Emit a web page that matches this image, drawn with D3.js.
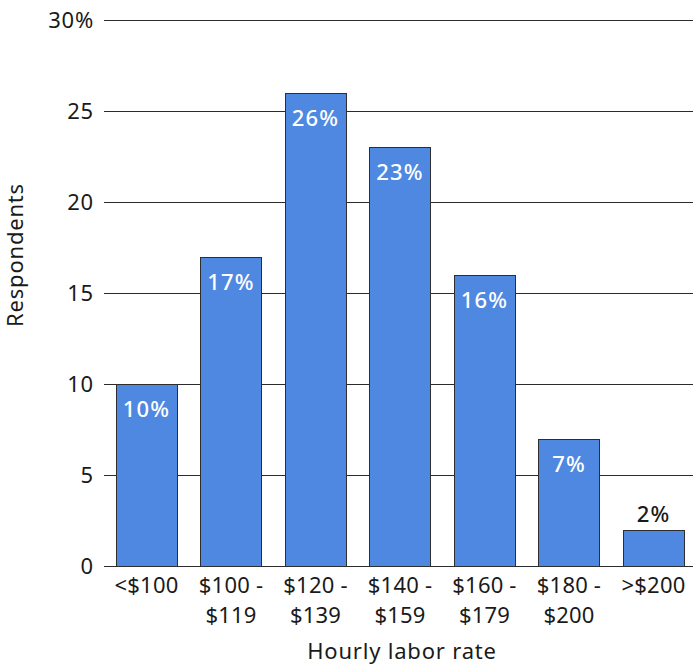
<!DOCTYPE html>
<html>
<head>
<meta charset="utf-8">
<script src="https://cdn.jsdelivr.net/npm/d3@7"></script>
<style>
  html, body { margin: 0; padding: 0; background: #fff; }
  svg { display: block; font-family: "Noto Sans", "Open Sans", sans-serif; letter-spacing: 0.8px; }
</style>
</head>
<body>
<svg id="chart" width="693" height="665"></svg>
<script>
// Share of respondents by hourly labor rate bracket
const categories = [["<$100"], ["$100 -", "$119"], ["$120 -", "$139"], ["$140 -", "$159"], ["$160 -", "$179"], ["$180 -", "$200"], [">$200"]];
const values = [10, 17, 26, 23, 16, 7, 2];
const yTicks = [0, 5, 10, 15, 20, 25, 30];
const yTickLabels = ["0", "5", "10", "15", "20", "25", "30%"];

const svg = d3.select("#chart");
const W = 693;
const FS = 22;

const x = d3.scaleBand()
  .domain(categories.map((c, i) => i))
  .range([104, 696])
  .paddingInner(0.278)
  .paddingOuter(0.142);

const y = d3.scaleLinear().domain([0, 30]).range([566, 20]);

// Horizontal gridlines
svg.append("g")
  .selectAll("line")
  .data(yTicks)
  .join("line")
  .attr("x1", 104).attr("x2", W)
  .attr("y1", d => Math.round(y(d)) + 0.5)
  .attr("y2", d => Math.round(y(d)) + 0.5)
  .attr("stroke", "#2b2b2b")
  .attr("stroke-width", 1);

// Y tick labels
svg.append("g")
  .selectAll("text")
  .data(yTicks)
  .join("text")
  .attr("x", 94)
  .attr("y", d => y(d) + 8)
  .attr("text-anchor", "end")
  .attr("font-size", FS)
  .attr("fill", "#1a1a1a")
  .text((d, i) => yTickLabels[i]);

// Bars
svg.append("g")
  .selectAll("rect")
  .data(values)
  .join("rect")
  .attr("x", (d, i) => Math.round(x(i)) + 0.5)
  .attr("y", d => Math.round(y(d)) + 0.5)
  .attr("width", x.bandwidth())
  .attr("height", d => y(0) - Math.round(y(d)))
  .attr("fill", "#4f88e0")
  .attr("stroke", "#2e2e2e")
  .attr("stroke-width", 1);

// Value labels: inside the bar when tall enough, above it otherwise
svg.append("g")
  .selectAll("text")
  .data(values)
  .join("text")
  .attr("x", (d, i) => x(i) + x.bandwidth() / 2)
  .attr("y", d => d >= 5 ? y(d) + 33 : y(d) - 8)
  .attr("text-anchor", "middle")
  .attr("font-size", FS)
  .attr("font-weight", 500)
  .attr("letter-spacing", "1.2px")
  .attr("fill", d => d >= 5 ? "#ffffff" : "#1a1a1a")
  .text(d => d + "%");

// X category labels, one text element per line
const lines = categories.flatMap((c, i) => c.map((t, j) => ({ i, j, t })));
svg.append("g")
  .selectAll("text")
  .data(lines)
  .join("text")
  .attr("x", d => x(d.i) + x.bandwidth() / 2)
  .attr("y", d => 593 + d.j * 30)
  .attr("text-anchor", "middle")
  .attr("font-size", FS)
  .attr("letter-spacing", "0.2px")
  .attr("fill", "#1a1a1a")
  .text(d => d.t);

// Axis titles
svg.append("text")
  .attr("x", 402)
  .attr("y", 659)
  .attr("text-anchor", "middle")
  .attr("font-size", FS)
  .attr("fill", "#1a1a1a")
  .text("Hourly labor rate");

svg.append("text")
  .attr("transform", "translate(23,255) rotate(-90)")
  .attr("text-anchor", "middle")
  .attr("font-size", FS)
  .attr("fill", "#1a1a1a")
  .text("Respondents");
</script>
</body>
</html>
